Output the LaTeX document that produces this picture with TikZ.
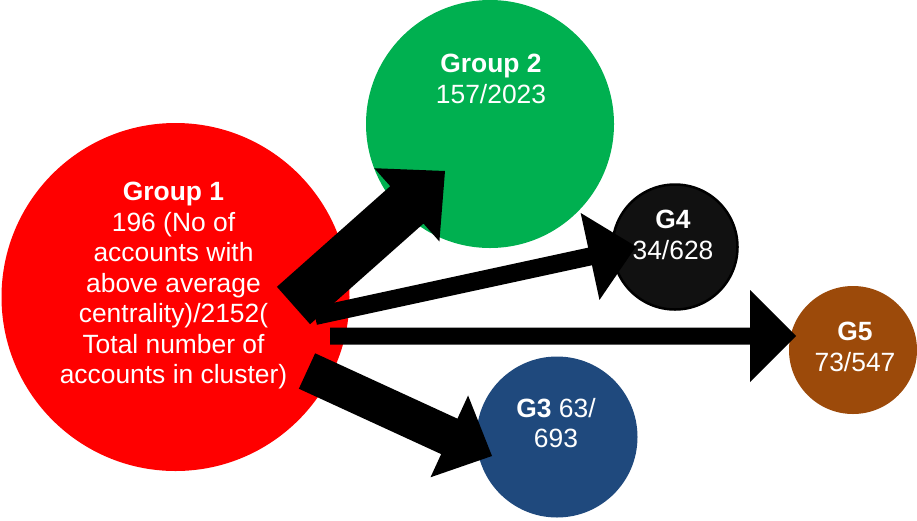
\documentclass[tikz,border=0pt]{standalone}
\usepackage{fontspec}
\setmainfont{Liberation Sans}
\usetikzlibrary{calc}
\definecolor{cRed}{RGB}{255,0,0}
\definecolor{cGreen}{RGB}{0,176,80}
\definecolor{cDark}{RGB}{17,17,17}
\definecolor{cBrown}{RGB}{156,74,10}
\definecolor{cBlue}{RGB}{31,73,125}
% #1 name, #2 tail, #3 tip, #4 half shaft width, #5 half head width, #6 head length
\newcommand\blockarrow[6]{%
  \coordinate (#1b) at ($(#3)!#6!(#2)$);
  \fill[arrowfill] ($(#2)!#4!90:(#3)$) -- ($(#1b)!#4!-90:(#2)$) -- ($(#1b)!#5!-90:(#2)$)
    -- (#3) -- ($(#1b)!#5!90:(#2)$) -- ($(#1b)!#4!90:(#2)$) -- ($(#2)!#4!-90:(#3)$) -- cycle;
}
\begin{document}
\begin{tikzpicture}[x=1pt,y=-1pt,
  bubble/.style={circle,inner sep=0pt,outer sep=0pt},
  txt/.style={text=white,align=center,inner sep=0pt,font=\fontsize{26.4}{30.5}\selectfont},
  arrowfill/.style={fill=black}]
\useasboundingbox (0,0) rectangle (917,520);
% circles
\node[bubble,fill=cRed,minimum size=348pt] (g1) at (175.5,297) {};
\node[bubble,fill=cGreen,minimum size=248pt] (g2) at (490,124) {};
\node[bubble,fill=cDark,draw=black,line width=2.5pt,minimum size=125pt] (g4) at (675,247) {};
\node[bubble,fill=cBrown,minimum size=128pt] (g5) at (853,350) {};
\node[bubble,fill=cBlue,minimum size=161pt] (g3) at (557,437) {};
% arrow end points
\coordinate (t1) at (293.5,305.5); \coordinate (p1) at (445,171);
\coordinate (t2) at (315,316);     \coordinate (p2) at (636,246.5);
\coordinate (t3) at (330,336);     \coordinate (p3) at (796,336);
\coordinate (t4) at (307,371);     \coordinate (p4) at (492,456);
% arrows
\blockarrow{a2}{t2}{p2}{9pt}{44.5pt}{47pt}
\blockarrow{a1}{t1}{p1}{25pt}{49pt}{51pt}
\blockarrow{a3}{t3}{p3}{8.5pt}{46pt}{46pt}
\blockarrow{a4}{t4}{p4}{19.5pt}{45pt}{47pt}
% texts
\node[txt] (g1t) at (173.5,286) {\textbf{Group 1}\\196 (No of\\accounts with\\above average\\centrality)/2152(\\Total number of\\accounts in cluster)};
\node[txt] (g2t) at (491,79) {\textbf{Group 2}\\157/2023};
\node[txt] (g4t) at (673,235) {\textbf{G4}\\34/628};
\node[txt] (g5t) at (855,347) {\textbf{G5}\\73/547};
\node[txt] (g3t) at (556,423) {\textbf{G3} 63/\\693};
\end{tikzpicture}
\end{document}
